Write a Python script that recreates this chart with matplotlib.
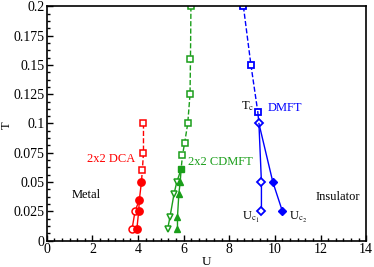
import matplotlib
matplotlib.use("Agg")
import matplotlib.pyplot as plt
from matplotlib.ticker import MultipleLocator

plt.rcParams['font.family'] = ['Liberation Serif', 'DejaVu Serif']
plt.rcParams['mathtext.fontset'] = 'stix'

# DCA (red)
dca_tc_U = [4.24, 4.24, 4.19, 4.15]
dca_tc_T = [0.1, 0.075, 0.06, 0.05]
dca_uc2_U = [4.15, 4.06, 4.03, 3.95]
dca_uc2_T = [0.05, 0.035, 0.025, 0.01]
dca_uc1_U = [4.06, 3.87, 3.74]
dca_uc1_T = [0.035, 0.025, 0.01]

# CDMFT (green)
cd_tc_U = [6.32, 6.3, 6.28, 6.18, 6.04, 5.95, 5.89]
cd_tc_T = [0.2, 0.155, 0.125, 0.1, 0.083, 0.073, 0.061]
cd_end_U = [5.89]
cd_end_T = [0.061]
cd_uc2_U = [5.89, 5.85, 5.79, 5.73, 5.73]
cd_uc2_T = [0.061, 0.05, 0.04, 0.02, 0.01]
cd_uc1_U = [5.89, 5.7, 5.58, 5.4, 5.3]
cd_uc1_T = [0.061, 0.05, 0.04, 0.02, 0.01]

# DMFT (blue)
dm_tc_U = [8.62, 8.95, 9.25]
dm_tc_T = [0.2, 0.15, 0.11]
dm_uc1_U = [9.25, 9.3, 9.41, 9.41]
dm_uc1_T = [0.11, 0.1, 0.05, 0.025]
dm_uc2_U = [9.3, 9.91, 10.33]
dm_uc2_T = [0.1, 0.05, 0.025]

y_ticks = [0, 0.025, 0.05, 0.075, 0.1, 0.125, 0.15, 0.175, 0.2]
y_ticklabels = ['0', '0.025', '0.05', '0.075', '0.1', '0.125', '0.15', '0.175', '0.2']

red = '#ff0000'
green = '#1a9e1a'
blue = '#0000ff'

fig = plt.figure(figsize=(3.74, 2.67), dpi=100)
ax = fig.add_axes([0.125, 0.099, 0.854, 0.877])

ms = 4.3
mew = 1.1
# red
ax.plot(dca_tc_U, dca_tc_T, '--', color=red, lw=1.0, marker='s', mfc='white', mec=red, ms=ms, mew=mew, markevery=[0, 1, 2])
ax.plot(dca_uc1_U, dca_uc1_T, '-', color=red, lw=1.0, marker='o', mfc='white', mec=red, ms=5, mew=mew, markevery=[1, 2])
ax.plot(dca_uc2_U, dca_uc2_T, '-', color=red, lw=1.0, marker='o', mfc=red, mec=red, ms=5.3)

# green
ax.plot(cd_tc_U, cd_tc_T, '--', color=green, lw=1.0, marker='s', mfc='white', mec=green, ms=ms, mew=mew, markevery=[0, 1, 2, 3, 4, 5])
ax.plot(cd_uc1_U, cd_uc1_T, '-', color=green, lw=1.0, marker='v', mfc='white', mec=green, ms=5, mew=mew, markevery=[1, 2, 3, 4])
ax.plot(cd_uc2_U, cd_uc2_T, '-', color=green, lw=1.0, marker='^', mfc=green, mec=green, ms=5, markevery=[1, 2, 3, 4])
ax.plot(cd_end_U, cd_end_T, 's', color=green, ms=ms + 0.5)

# blue
ax.plot(dm_tc_U, dm_tc_T, '--', color=blue, lw=1.0, marker='s', mfc='white', mec=blue, ms=ms, mew=1.3)
ax.plot(dm_uc1_U, dm_uc1_T, '-', color=blue, lw=1.0, marker='D', mfc='white', mec=blue, ms=4, mew=1.3, markevery=[1, 2, 3])
ax.plot(dm_uc2_U, dm_uc2_T, '-', color=blue, lw=1.0, marker='D', mfc=blue, mec=blue, ms=4.3, markevery=[1, 2])

ax.set_xlim(0, 14)
ax.set_ylim(0, 0.2)
ax.xaxis.set_major_locator(MultipleLocator(2))
ax.xaxis.set_minor_locator(MultipleLocator(1 / 3))
ax.set_yticks(y_ticks)
ax.set_yticklabels(y_ticklabels)
ax.yaxis.set_minor_locator(MultipleLocator(0.00625))
ax.tick_params(which='both', direction='in', top=False, right=False, labelsize=10, pad=1.5)
ax.tick_params(which='major', length=4.5, width=1)
ax.tick_params(which='minor', length=2.5, width=1)
for s in ax.spines.values():
    s.set_linewidth(1.2)

ax.set_xlabel('U', fontsize=9.5)
ax.xaxis.set_label_coords(0.5, -0.066)
fig.text(7 / 374, 1 - 125 / 267, 'T', fontsize=9, rotation=90, ha='center', va='center')

ax.text(1.1, 0.039, 'Metal', fontsize=9, va='center', ha='left')
ax.text(13.72, 0.0375, 'Insulator', fontsize=9, va='center', ha='right')
ax.text(1.75, 0.070, '2x2 DCA', fontsize=9, color=red, va='center', ha='left')
ax.text(6.21, 0.067, '2x2 CDMFT', fontsize=9, color=green, va='center', ha='left')
ax.text(9.67, 0.113, 'DMFT', fontsize=9, color=blue, va='center', ha='left')
ax.text(8.5, 0.115, r'T$_\mathrm{c}$', fontsize=9, va='center', ha='left')
ax.text(8.55, 0.020, r'U$_{\mathrm{c}_1}$', fontsize=9, va='center', ha='left')
ax.text(10.6, 0.020, r'U$_{\mathrm{c}_2}$', fontsize=9, va='center', ha='left')

fig.savefig('out.png', dpi=100)
